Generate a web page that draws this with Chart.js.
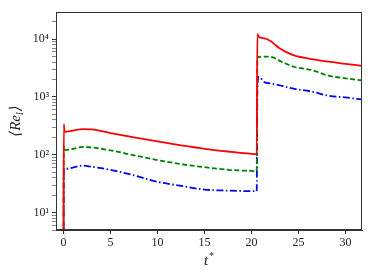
<!DOCTYPE html>
<html>
<head>
<meta charset="utf-8">
<script src="https://cdn.jsdelivr.net/npm/chart.js@4/dist/chart.umd.min.js"></script>
<style>
  html, body { margin: 0; padding: 0; background: #fff; }
  #wrap { width: 374px; height: 280px; }
</style>
</head>
<body>
<div id="wrap"><canvas id="ReChart"></canvas></div>
<script>
// time axis, shared by all three curves
const times = [0, 0.03, 0.12, 1, 2, 3, 5, 7.5, 10, 12.5, 15, 17.5, 20, 20.55, 20.62, 20.75, 21.4, 22, 22.4, 22.9, 23.6, 24.6, 26.4, 28.2, 30, 31.75];
const redVals   = [1, 340, 250, 262, 278, 275, 238, 200, 170, 146, 127, 114, 104, 103, 12300, 11000, 10300, 9300, 8300, 7100, 6100, 5200, 4530, 4080, 3750, 3450];
const greenVals = [1, 140, 120, 126, 137, 134, 119, 98, 81, 69, 61, 55, 52.5, 52, 4700, 4950, 4980, 4950, 4750, 4300, 3800, 3300, 2920, 2330, 2100, 1930];
const blueVals  = [1, 55, 57, 60, 65, 62, 55, 44, 34, 29, 25, 24, 23.5, 23.5, 1300, 2240, 1800, 1720, 1670, 1610, 1500, 1380, 1240, 1050, 980, 905];

const xTicks = [0, 5, 10, 15, 20, 25, 30];
const yDecades = [1, 10, 100, 1000, 10000];
const yLabels = { 10: '10¹', 100: '10²', 1000: '10³', 10000: '10⁴' };

function toPoints(vals) {
    return vals.map((v, i) => ({ x: times[i], y: v }));
}

const fontFam = "'Liberation Serif', 'DejaVu Serif', serif";

// frame round the plot area, plus the two axis titles (subscript / superscript)
const boxPlugin = {
    id: 'box',
    afterDraw(chart) {
        const a = chart.chartArea;
        const c = chart.ctx;
        c.save();
        c.strokeStyle = '#333';
        c.lineWidth = 1;
        c.strokeRect(a.left + 0.5, a.top + 0.5, a.right - a.left - 1, a.bottom - a.top - 1);

        c.fillStyle = '#222';
        c.textBaseline = 'alphabetic';

        // y title: <Re_l>
        const big = 'italic 15px ' + fontFam;
        const small = 'italic 10px ' + fontFam;
        c.font = big;
        const w1 = c.measureText('⟨Re').width;
        const w3 = c.measureText('⟩').width;
        c.font = small;
        const w2 = c.measureText('l').width + 1;
        const total = w1 + w2 + w3;
        c.translate(20, (a.top + a.bottom) / 2);
        c.rotate(-Math.PI / 2);
        let x0 = -total / 2;
        c.font = big;
        c.fillText('⟨Re', x0, 0);
        c.font = small;
        c.fillText('l', x0 + w1, 3);
        c.font = big;
        c.fillText('⟩', x0 + w1 + w2, 0);
        c.setTransform(1, 0, 0, 1, 0, 0);

        // x title: t*
        const cx = (a.left + a.right) / 2 - 3;
        c.font = big;
        const wt = c.measureText('t').width;
        c.fillText('t', cx - wt / 2, 265);
        c.font = small;
        c.fillText('*', cx + wt / 2 + 0.5, 259);
        c.restore();
    }
};

let ctx = document.getElementById('ReChart').getContext('2d');

var myChart = new Chart(ctx, {
    type: 'line',
    data: {
        datasets: [
            {
                label: 'red',
                data: toPoints(redVals),
                borderColor: '#ff0000',
                borderWidth: 1.8,
                pointRadius: 0,
                cubicInterpolationMode: 'monotone'
            },
            {
                label: 'green',
                data: toPoints(greenVals),
                borderColor: '#008000',
                borderWidth: 1.8,
                borderDash: [5, 2.5],
                pointRadius: 0,
                cubicInterpolationMode: 'monotone'
            },
            {
                label: 'blue',
                data: toPoints(blueVals),
                borderColor: '#0000ff',
                borderWidth: 1.8,
                borderDash: [7, 2.5, 1.5, 2.5],
                pointRadius: 0,
                cubicInterpolationMode: 'monotone'
            }
        ]
    },
    options: {
        responsive: true,
        maintainAspectRatio: false,
        animation: false,
        layout: { padding: { top: 12, right: 12, left: 0, bottom: 0 } },
        plugins: {
            legend: { display: false },
            tooltip: { enabled: false }
        },
        scales: {
            x: {
                type: 'linear',
                min: -0.8,
                max: 31.75,
                afterBuildTicks: (scale) => { scale.ticks = xTicks.map(v => ({ value: v })); },
                afterFit: (scale) => { scale.height = 50; },
                ticks: {
                    autoSkip: false,
                    maxRotation: 0,
                    padding: 2,
                    color: '#222',
                    font: { family: fontFam, size: 12 }
                },
                grid: { drawOnChartArea: false, tickLength: 4, tickColor: '#333' },
                border: { color: '#333' }
            },
            y: {
                type: 'logarithmic',
                min: 5,
                max: 29500,
                afterBuildTicks: (scale) => {
                    const t = [];
                    yDecades.forEach(d => {
                        for (let k = 1; k < 10; k++) {
                            const v = d * k;
                            if (v >= 5 && v <= 29500) t.push({ value: v, major: k === 1 });
                        }
                    });
                    scale.ticks = t;
                },
                afterFit: (scale) => { scale.width = 56; },
                ticks: {
                    autoSkip: false,
                    padding: 3,
                    color: '#222',
                    font: { family: fontFam, size: 12 },
                    callback: (v) => yLabels[v] || ''
                },
                grid: {
                    drawOnChartArea: false,
                    tickLength: 4,
                    tickColor: '#333',
                    tickWidth: (c) => (c.tick && c.tick.major ? 1 : 0.6)
                },
                border: { color: '#333' }
            }
        }
    },
    plugins: [boxPlugin]
});
</script>
</body>
</html>
